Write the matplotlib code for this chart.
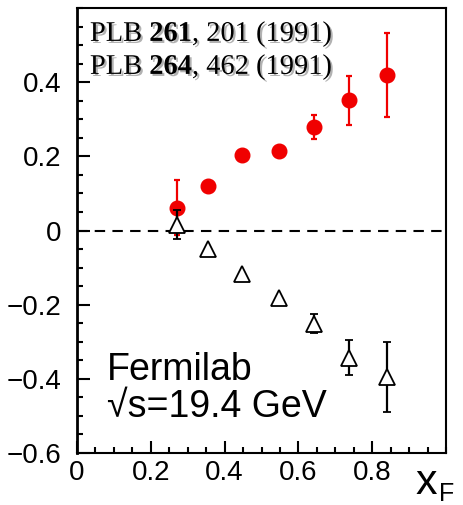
import matplotlib
matplotlib.use("Agg")
import matplotlib.pyplot as plt
import matplotlib.patheffects as pe
from matplotlib.ticker import MultipleLocator

# red circles
xf_red = [0.27, 0.355, 0.448, 0.548, 0.643, 0.737, 0.84]
an_red = [0.062, 0.119, 0.205, 0.214, 0.279, 0.351, 0.419]
err_red = [0.075, 0.0, 0.0, 0.0, 0.033, 0.066, 0.113]

# open triangles
xf_blk = [0.27, 0.355, 0.448, 0.548, 0.643, 0.737, 0.84]
an_blk = [0.016, -0.049, -0.116, -0.181, -0.251, -0.343, -0.395]
err_blk = [0.040, 0.0, 0.0, 0.0, 0.025, 0.048, 0.095]

xticks = [0, 0.2, 0.4, 0.6, 0.8]
yticks = [-0.6, -0.4, -0.2, 0, 0.2, 0.4]

plt.rcParams['font.family'] = ['Liberation Sans', 'DejaVu Sans']
plt.rcParams['mathtext.fontset'] = 'custom'
plt.rcParams['mathtext.rm'] = 'Liberation Serif'
plt.rcParams['mathtext.bf'] = 'Liberation Serif:bold'

fig = plt.figure(figsize=(4.63, 5.05), dpi=100)
ax = fig.add_axes([0.1663, 0.103, 0.797, 0.881])
ax.set_xlim(0, 1.0)
ax.set_ylim(-0.6, 0.6)

ax.axhline(0, color='k', lw=1.5, ls=(0, (5, 3.5)), zorder=1)

ax.errorbar(xf_red, an_red, yerr=err_red, fmt='o', color='#f00000', ms=10.5,
            elinewidth=1.6, capsize=2.3, capthick=1.6, zorder=3)
ax.errorbar(xf_blk, an_blk, yerr=err_blk, fmt='^', mfc='white', mec='k', mew=1.3,
            ecolor='k', ms=12, elinewidth=1.6, capsize=3, capthick=1.6, zorder=4)

ax.set_xticks(xticks)
ax.set_xticklabels(["0", "0.2", "0.4", "0.6", "0.8"])
ax.set_yticks(yticks)
ax.set_yticklabels(["\u22120.6", "\u22120.4", "\u22120.2", "0", "0.2", "0.4"])
ax.xaxis.set_minor_locator(MultipleLocator(0.05))
ax.yaxis.set_minor_locator(MultipleLocator(0.05))
ax.tick_params(which='both', direction='in', top=False, right=False, width=1.5, labelsize=20)
ax.tick_params(which='major', length=9)
ax.tick_params(which='minor', length=4.5)
ax.tick_params(axis='x', pad=5)
ax.tick_params(axis='y', pad=11)
for sp in ax.spines.values():
    sp.set_linewidth(1.5)
ax.spines['left'].set_linewidth(2)

shadow = [pe.SimplePatchShadow(offset=(1.5, -1.5), shadow_rgbFace='gray', alpha=0.6), pe.Normal()]
ax.text(0.035, 0.511, r"PLB $\mathbf{261}$, 201 (1991)", family='Liberation Serif', fontsize=20.5,
        path_effects=shadow)
ax.text(0.035, 0.422, r"PLB $\mathbf{264}$, 462 (1991)", family='Liberation Serif', fontsize=20.5,
        path_effects=shadow)

ax.text(0.081, -0.403, "Fermilab", fontsize=27)
ax.text(0.081, -0.503, "\u221as=19.4 GeV", fontsize=27)

fig.text(416 / 463, 1 - 494 / 505, "x", fontsize=31, va='baseline')
fig.text(439 / 463, 1 - 501 / 505, "F", fontsize=18, va='baseline')

fig.savefig("out.png", dpi=100)
